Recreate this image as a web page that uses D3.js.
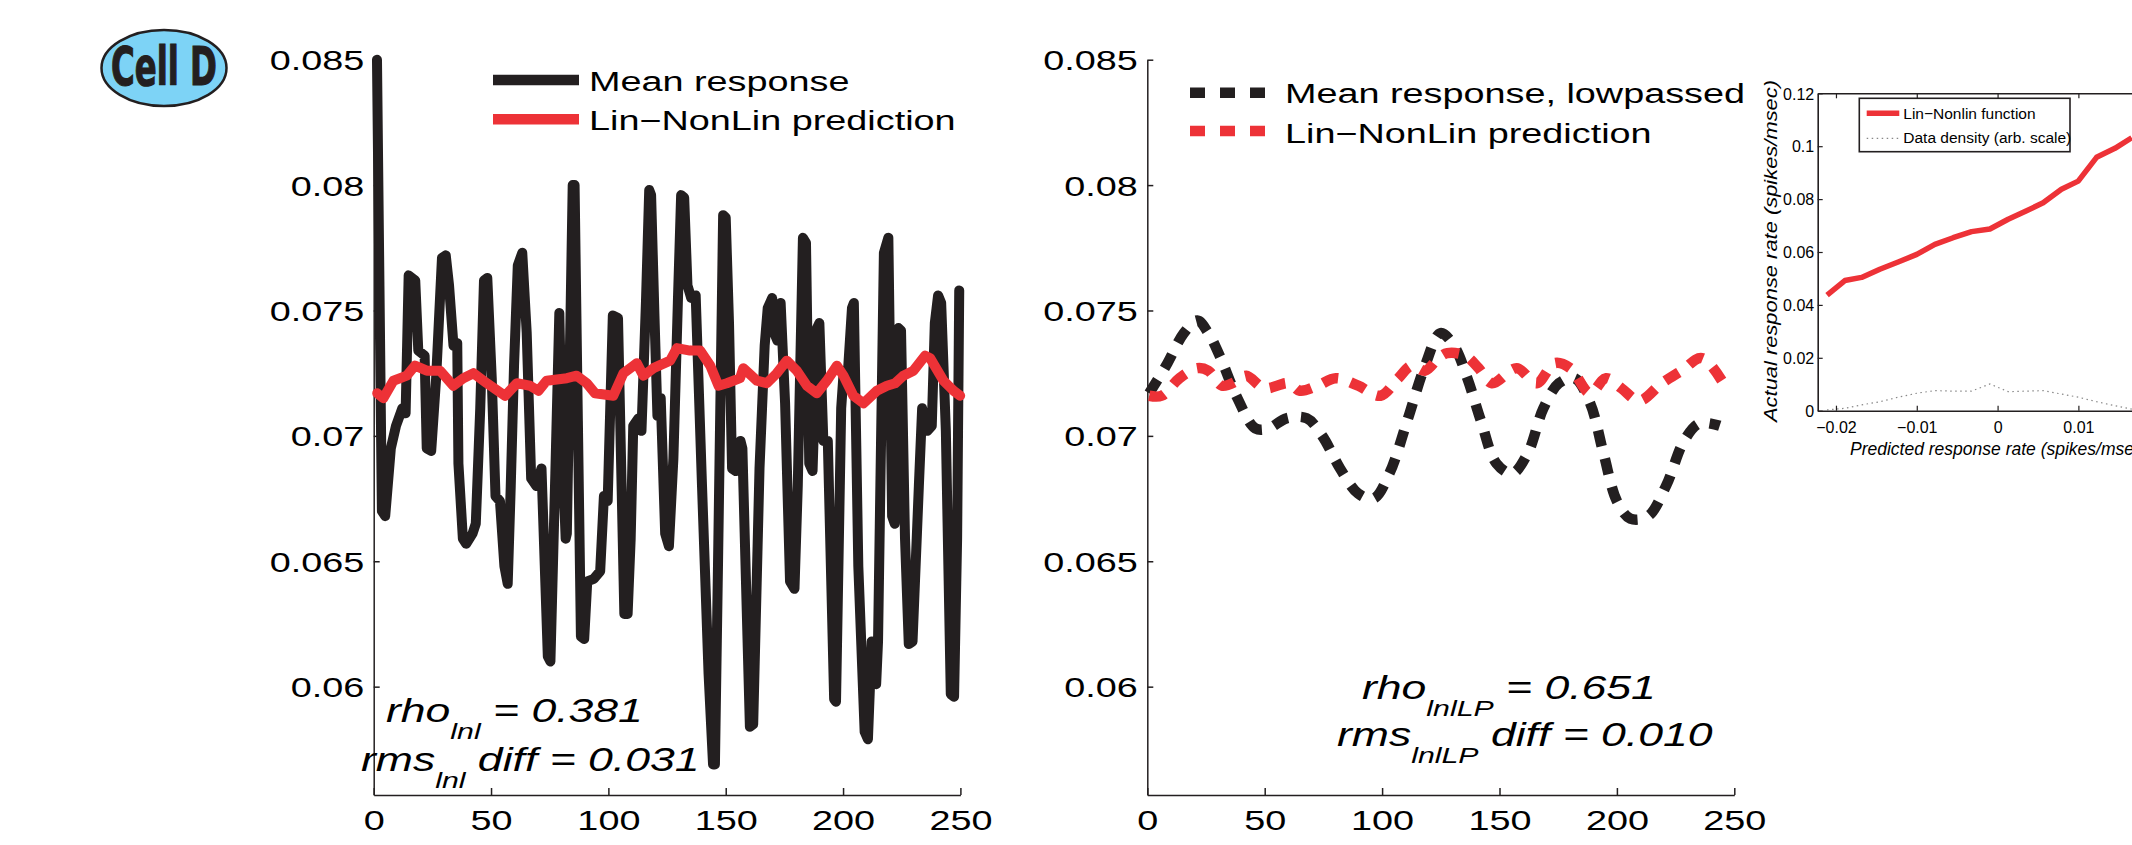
<!DOCTYPE html>
<html><head><meta charset="utf-8">
<script src="https://cdn.jsdelivr.net/npm/d3@7"></script>
<style>html,body{margin:0;padding:0;background:#fff;} svg{display:block;}</style>
</head><body><svg id="c" width="2132" height="845"></svg>
<script>
// ---------- data ----------
const respT = [1.4,3.5,4.9,7.3,9.5,12.2,13.6,14.9,17.7,19.0,21.7,22.6,24.5,26.6,29.1,30.7,32.1,34.0,35.6,36.1,38.0,39.4,42.1,43.5,45.4,47.0,48.4,50.3,51.9,53.8,55.7,57.1,58.4,59.8,61.4,63.3,65.2,67.1,69.3,71.5,74.2,75.3,77.4,79.1,80.2,81.8,82.3,84.8,85.6,87.0,88.3,89.7,91.0,93.8,96.5,98.1,99.7,101.9,104.1,106.8,108.2,109.5,110.6,112.8,114.1,116.0,117.4,118.2,119.6,120.9,122.3,124.2,125.8,127.7,129.6,131.0,132.3,133.7,135.3,137.2,139.9,142.7,144.6,145.4,146.7,148.9,150.0,151.4,152.7,154.3,156.3,157.1,160.3,161.7,164.4,166.6,167.9,169.8,170.7,172.0,173.4,175.3,177.4,179.3,180.7,182.9,184.2,185.6,187.0,188.9,189.9,191.6,193.5,196.2,197.0,199.2,200.3,201.9,203.8,204.6,206.5,209.2,210.6,212.2,214.1,214.9,217.4,219.3,220.9,222.0,223.6,224.7,226.4,228.0,229.6,232.3,233.7,235.9,237.8,239.1,240.5,241.8,243.8,245.9,247.3,248.6,249.5];
const respV = [0.0850,0.0670,0.0668,0.0695,0.0704,0.0711,0.0709,0.0764,0.0762,0.0734,0.0732,0.0695,0.0694,0.0723,0.0771,0.0772,0.0760,0.0736,0.0737,0.0689,0.0659,0.0657,0.0661,0.0665,0.0711,0.0762,0.0763,0.0723,0.0676,0.0674,0.0648,0.0641,0.0680,0.0728,0.0768,0.0773,0.0741,0.0683,0.0680,0.0687,0.0612,0.0610,0.0685,0.0749,0.0698,0.0659,0.0661,0.0800,0.0800,0.0706,0.0620,0.0619,0.0642,0.0643,0.0646,0.0676,0.0674,0.0748,0.0747,0.0629,0.0629,0.0659,0.0704,0.0707,0.0702,0.0753,0.0798,0.0796,0.0749,0.0708,0.0715,0.0661,0.0656,0.0691,0.0753,0.0796,0.0795,0.0760,0.0755,0.0756,0.0680,0.0605,0.0569,0.0569,0.0648,0.0788,0.0787,0.0745,0.0687,0.0686,0.0698,0.0695,0.0584,0.0585,0.0687,0.0736,0.0751,0.0755,0.0741,0.0738,0.0753,0.0713,0.0642,0.0639,0.0680,0.0779,0.0777,0.0689,0.0686,0.0743,0.0745,0.0698,0.0698,0.0595,0.0594,0.0711,0.0726,0.0723,0.0751,0.0753,0.0648,0.0582,0.0579,0.0618,0.0601,0.0618,0.0773,0.0779,0.0668,0.0665,0.0743,0.0742,0.0659,0.0617,0.0618,0.0680,0.0711,0.0702,0.0704,0.0745,0.0756,0.0753,0.0702,0.0597,0.0596,0.0659,0.0758];

const predT = [1.5,4.1,8.4,14.1,17.6,22.6,28.3,33.9,38.2,42.5,48.2,56.0,61.0,66.6,70.2,73.7,82.3,86.5,90.8,94.3,102.1,106.4,110.7,112.1,114.9,119.2,126.3,129.2,134.8,139.1,143.4,146.9,150.5,156.1,157.5,163.3,167.5,171.8,176.0,180.3,184.6,188.8,193.1,197.4,200.2,204.4,208.7,214.4,218.7,222.2,225.7,230.0,235.0,237.1,242.8,247.1,249.9];
const predV = [0.0717,0.0715,0.0722,0.0724,0.0728,0.0726,0.0726,0.0720,0.0723,0.0725,0.0721,0.0716,0.0721,0.0720,0.0718,0.0722,0.0723,0.0724,0.0721,0.0717,0.0716,0.0725,0.0728,0.0729,0.0724,0.0727,0.0730,0.0735,0.0734,0.0734,0.0728,0.0720,0.0721,0.0723,0.0727,0.0722,0.0721,0.0725,0.0730,0.0726,0.0720,0.0717,0.0722,0.0728,0.0724,0.0716,0.0713,0.0718,0.0720,0.0721,0.0724,0.0726,0.0732,0.0731,0.0722,0.0718,0.0716];

const lpT = [0.8,8,15.6,21.3,26,30.8,38.4,46,51.7,59.3,67.9,74.5,82.1,89.8,96.4,103.1,110.7,118.3,124.9,130.6,136.3,142.1,148.7,155.4,162.0,168.7,175.3,182,188.6,194.3,200,205.7,213.3,220.9,228.6,235.2,243.8];
const lpV = [0.0717,0.0728,0.0741,0.0746,0.0741,0.0732,0.0715,0.0703,0.0703,0.0707,0.0707,0.0700,0.0687,0.0677,0.0675,0.0685,0.0706,0.0728,0.0741,0.0736,0.0723,0.0706,0.0689,0.0685,0.0693,0.0711,0.0721,0.0723,0.0713,0.0693,0.0674,0.0667,0.0668,0.0680,0.0698,0.0705,0.0704];

const lpPredT = [0.8,6.1,13.7,21.3,26,31.8,38.4,42.2,49.8,60.3,65,72.6,80.2,89.8,99.3,106.9,112.6,118.3,124,127.8,135.4,141.1,146.8,157.3,165.8,173.5,180.1,188.6,195.3,201.9,209.5,219.1,227.6,236.2,246.6];
const lpPredV = [0.0716,0.0716,0.0723,0.0727,0.0726,0.0720,0.0722,0.0724,0.0719,0.0721,0.0718,0.0720,0.0723,0.0720,0.0716,0.0723,0.0728,0.0726,0.0731,0.0733,0.0732,0.0727,0.0721,0.0727,0.0721,0.0729,0.0727,0.0717,0.0723,0.0719,0.0714,0.0721,0.0726,0.0731,0.0719];

const fnX = [-0.0211,-0.0189,-0.01683,-0.01457,-0.0123,-0.0100,-0.00776,-0.0055,-0.00322,-0.00095,0.00131,0.00359,0.00564,0.0079,0.00998,0.01225,0.01452,0.0166];
const fnY = [0.0437,0.0492,0.0504,0.0535,0.0562,0.0591,0.0629,0.0654,0.0677,0.0687,0.0724,0.0756,0.0786,0.0837,0.0868,0.0958,0.0992,0.1032];
const densY = [0.0003,0.0009,0.0022,0.0034,0.0051,0.0066,0.0076,0.0074,0.0074,0.0101,0.0072,0.0074,0.0076,0.0063,0.0051,0.0034,0.0019,0.0006];

const yTicks = [0.06,0.065,0.07,0.075,0.08,0.085];
const xTicks = [0,50,100,150,200,250];
const insetXTicks = [-0.02,-0.01,0,0.01];
const insetYTicks = [0,0.02,0.04,0.06,0.08,0.1,0.12];
const legendMain = ["Mean response","Lin\u2212NonLin prediction"];
const legendLP = ["Mean response, lowpassed","Lin\u2212NonLin prediction"];
const legendInset = ["Lin\u2212Nonlin function","Data density (arb. scale)"];
const statsMain = [["rho","lnl"," = 0.381"],["rms","lnl"," diff = 0.031"]];
const statsLP = [["rho","lnlLP"," = 0.651"],["rms","lnlLP"," diff = 0.010"]];
const badge = "Cell D";
const insetXLabel = "Predicted response rate (spikes/msec)";
const insetYLabel = "Actual response rate (spikes/msec)";

// ---------- drawing ----------
const INK = "#231f20", RED = "#ed3237";
const FONT = '"Liberation Sans", Arial, Helvetica, sans-serif';
const SX = 1.35;
const svg = d3.select("#c");
svg.append("rect").attr("width",2132).attr("height",845).attr("fill","#fff");

const yMain = d3.scaleLinear().domain([0.05568, 0.085]).range([795, 59.7]);
const xLeft = d3.scaleLinear().domain([0,250]).range([373.7, 960.4]);
const xMid = d3.scaleLinear().domain([0,250]).range([1147.3, 1734.3]);

function mainAxes(x) {
  const g = svg.append("g");
  const ya = g.append("g").attr("transform", `translate(${x.range()[0]},0)`)
    .call(d3.axisLeft(yMain).tickValues(yTicks).tickSizeInner(-6).tickSizeOuter(0).tickFormat(d => String(+d.toFixed(3))));
  const xa = g.append("g").attr("transform", `translate(0,${yMain.range()[0]})`)
    .call(d3.axisBottom(x).tickValues(xTicks).tickSizeInner(-7).tickSizeOuter(0).tickFormat(d3.format("d")));
  [ya, xa].forEach(a => {
    a.select(".domain").attr("stroke", INK).attr("stroke-width", 1.5);
    a.selectAll(".tick line").attr("stroke", INK).attr("stroke-width", 1.5);
    a.selectAll(".tick text").attr("font-family", FONT).attr("font-size", 28).attr("fill", "#000").attr("dy", null);
  });
  ya.selectAll(".tick text").attr("x", 0).attr("transform", `translate(-9.5,10) scale(${SX},1)`);
  xa.selectAll(".tick text").attr("y", 0).attr("transform", `translate(0,35) scale(${SX},1)`);
}

function stretchedText(x, y, str, size, anchor) {
  return svg.append("text").attr("transform", `translate(${x},${y}) scale(${SX},1)`)
    .attr("font-family", FONT).attr("font-size", size).attr("fill", "#000")
    .attr("text-anchor", anchor || "start").style("white-space", "pre").text(str);
}

function statText(x, y, parts, size) {
  const t = svg.append("text").attr("transform", `translate(${x},${y}) scale(${SX},1)`)
    .attr("font-family", FONT).attr("font-style", "italic").attr("font-size", size)
    .attr("fill", "#000").style("white-space", "pre");
  t.append("tspan").text(parts[0]);
  t.append("tspan").attr("font-size", size * 0.68).attr("dy", 17).text(parts[1]);
  t.append("tspan").attr("dy", -17).text(parts[2]);
}

// ----- left panel -----
mainAxes(xLeft);
const lineL = d3.line().x(d => xLeft(d[0])).y(d => yMain(d[1]));
svg.append("path").datum(d3.zip(respT, respV)).attr("d", lineL)
  .attr("fill", "none").attr("stroke", INK).attr("stroke-width", 10)
  .attr("stroke-linejoin", "round").attr("stroke-linecap", "round");
svg.append("path").datum(d3.zip(predT, predV)).attr("d", lineL)
  .attr("fill", "none").attr("stroke", RED).attr("stroke-width", 10)
  .attr("stroke-linejoin", "round").attr("stroke-linecap", "round");

svg.append("line").attr("x1", 493).attr("x2", 579).attr("y1", 80).attr("y2", 80).attr("stroke", INK).attr("stroke-width", 10.5);
svg.append("line").attr("x1", 493).attr("x2", 579).attr("y1", 119.3).attr("y2", 119.3).attr("stroke", RED).attr("stroke-width", 10.5);
stretchedText(589, 90.7, legendMain[0], 28);
stretchedText(589, 130, legendMain[1], 28);
statText(386, 722, statsMain[0], 33);
statText(361, 771, statsMain[1], 33);

// ----- middle panel -----
mainAxes(xMid);
const lineM = d3.line().x(d => xMid(d[0])).y(d => yMain(d[1])).curve(d3.curveCatmullRom);
svg.append("path").datum(d3.zip(lpT, lpV)).attr("d", lineM)
  .attr("fill", "none").attr("stroke", INK).attr("stroke-width", 10.5).attr("stroke-dasharray", "16,13");
svg.append("path").datum(d3.zip(lpPredT, lpPredV)).attr("d", lineM)
  .attr("fill", "none").attr("stroke", RED).attr("stroke-width", 10.5).attr("stroke-dasharray", "16,13");

svg.append("line").attr("x1", 1190).attr("x2", 1265).attr("y1", 92.8).attr("y2", 92.8).attr("stroke", INK).attr("stroke-width", 10.5).attr("stroke-dasharray", "15,15");
svg.append("line").attr("x1", 1190).attr("x2", 1265).attr("y1", 131).attr("y2", 131).attr("stroke", RED).attr("stroke-width", 10.5).attr("stroke-dasharray", "15,15");
stretchedText(1285, 102.5, legendLP[0], 28);
stretchedText(1285, 142.5, legendLP[1], 28);
statText(1362, 699, statsLP[0], 33);
statText(1337, 746, statsLP[1], 33);

// ----- inset -----
const xIn = d3.scaleLinear().domain([-0.02226, 0.02]).range([1817.7, 2159.2]);
const yIn = d3.scaleLinear().domain([0, 0.12]).range([410.7, 93.3]);
const gi = svg.append("g");
gi.append("rect").attr("x", 1817.7).attr("y", 93.3).attr("width", 2159.2 - 1817.7).attr("height", 410.7 - 93.3).attr("fill", "#fff");
svg.append("clipPath").attr("id", "inclip").append("rect")
  .attr("x", 1817.7).attr("y", 93.3).attr("width", 2159.2 - 1817.7).attr("height", 410.7 - 93.3);
const lineI = d3.line().x(d => xIn(d[0])).y(d => yIn(d[1]));
gi.append("path").datum(d3.zip(fnX, densY)).attr("d", lineI).attr("clip-path", "url(#inclip)")
  .attr("fill", "none").attr("stroke", "#888").attr("stroke-width", 1.2).attr("stroke-dasharray", "1.5,3.5");
gi.append("path").datum(d3.zip(fnX, fnY)).attr("d", lineI).attr("clip-path", "url(#inclip)")
  .attr("fill", "none").attr("stroke", RED).attr("stroke-width", 5.5).attr("stroke-linejoin", "round");

const fmtIn = d => d3.format("")(+d.toFixed(3));
const ia = gi.append("g").attr("transform", "translate(0,410.7)")
  .call(d3.axisBottom(xIn).tickValues(insetXTicks).tickSizeInner(-5).tickSizeOuter(0).tickFormat(fmtIn));
const it = gi.append("g").attr("transform", "translate(0,93.3)")
  .call(d3.axisTop(xIn).tickValues(insetXTicks).tickSizeInner(-5).tickSizeOuter(0).tickFormat(""));
const il = gi.append("g").attr("transform", "translate(1817.7,0)")
  .call(d3.axisLeft(yIn).tickValues(insetYTicks).tickSizeInner(-5).tickSizeOuter(0).tickFormat(fmtIn));
[ia, it, il].forEach(a => {
  a.select(".domain").attr("stroke", INK).attr("stroke-width", 1.6);
  a.selectAll(".tick line").attr("stroke", INK).attr("stroke-width", 1.2);
  a.selectAll(".tick text").attr("font-family", FONT).attr("font-size", 16).attr("fill", "#000").attr("dy", null);
});
ia.selectAll(".tick text").attr("y", 22);
il.selectAll(".tick text").attr("x", -3.5).attr("dy", "0.36em");

gi.append("text").attr("transform", "translate(1777,251) rotate(-90)")
  .attr("font-family", FONT).attr("font-style", "italic").attr("font-size", 18).attr("fill", "#000")
  .attr("text-anchor", "middle").attr("textLength", 342).attr("lengthAdjust", "spacingAndGlyphs").text(insetYLabel);
gi.append("text").attr("x", 1850).attr("y", 455)
  .attr("font-family", FONT).attr("font-style", "italic").attr("font-size", 17.5).attr("fill", "#000").text(insetXLabel);

gi.append("rect").attr("x", 1859.3).attr("y", 98.3).attr("width", 2070 - 1859.3).attr("height", 151.7 - 98.3)
  .attr("fill", "#fff").attr("stroke", INK).attr("stroke-width", 1.6);
gi.append("line").attr("x1", 1866.7).attr("x2", 1899.3).attr("y1", 113.3).attr("y2", 113.3).attr("stroke", RED).attr("stroke-width", 5.5);
gi.append("line").attr("x1", 1866.7).attr("x2", 1899.3).attr("y1", 138.3).attr("y2", 138.3).attr("stroke", "#888").attr("stroke-width", 1.2).attr("stroke-dasharray", "1.5,3.5");
gi.append("text").attr("x", 1903.3).attr("y", 119.3).attr("font-family", FONT).attr("font-size", 15.5).attr("fill", "#000").text(legendInset[0]);
gi.append("text").attr("x", 1903.3).attr("y", 143.3).attr("font-family", FONT).attr("font-size", 15.5).attr("fill", "#000").text(legendInset[1]);

// ----- badge -----
svg.append("ellipse").attr("cx", 164).attr("cy", 68).attr("rx", 62.5).attr("ry", 38)
  .attr("fill", "#7dd3f6").attr("stroke", INK).attr("stroke-width", 2.5);
svg.append("text").attr("x", 111).attr("y", 85).attr("font-family", '"Liberation Sans Narrow", "DejaVu Sans Condensed", "DejaVu Sans", sans-serif')
  .attr("font-weight", "bold").attr("font-size", 54).attr("fill", INK)
  .attr("stroke", INK).attr("stroke-width", 1.2)
  .attr("textLength", 106).attr("lengthAdjust", "spacingAndGlyphs").text(badge);
</script></body></html>
